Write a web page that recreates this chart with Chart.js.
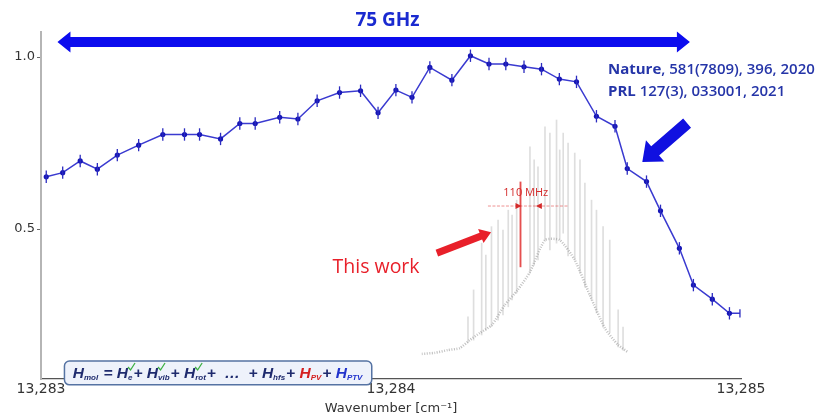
<!DOCTYPE html>
<html>
<head>
<meta charset="utf-8">
<script src="https://cdn.jsdelivr.net/npm/chart.js@4.4.1/dist/chart.umd.min.js"></script>
<style>
  html, body { margin: 0; padding: 0; background: #fff; }
  #wrap { width: 833px; height: 417px; position: relative; }
</style>
</head>
<body>
<div id="wrap"><canvas id="chart"></canvas></div>
<script>
// previous work (blue points with error bars)
const waveBlue = [13283.015, 13283.062, 13283.112, 13283.161, 13283.218, 13283.279, 13283.348, 13283.410,
  13283.453, 13283.513, 13283.568, 13283.612, 13283.682, 13283.734, 13283.789, 13283.853, 13283.913,
  13283.963, 13284.014, 13284.060, 13284.111, 13284.174, 13284.227, 13284.280, 13284.328, 13284.380,
  13284.430, 13284.481, 13284.530, 13284.587, 13284.640, 13284.675, 13284.730, 13284.770, 13284.824,
  13284.864, 13284.918, 13284.967, 13284.997];
const signalBlue = [0.652, 0.664, 0.698, 0.674, 0.715, 0.744, 0.775, 0.775, 0.775, 0.762, 0.807, 0.807,
  0.825, 0.820, 0.873, 0.897, 0.902, 0.838, 0.904, 0.883, 0.970, 0.933, 1.004, 0.980, 0.980, 0.972,
  0.965, 0.936, 0.928, 0.828, 0.799, 0.676, 0.638, 0.553, 0.444, 0.337, 0.296, 0.255, 0.255];
const errBlue = [0.018, 0.018, 0.018, 0.018, 0.018, 0.018, 0.018, 0.018, 0.018, 0.018, 0.018, 0.018,
  0.018, 0.018, 0.018, 0.018, 0.018, 0.018, 0.018, 0.018, 0.018, 0.018, 0.018, 0.018, 0.018, 0.018,
  0.018, 0.018, 0.018, 0.018, 0.018, 0.018, 0.018, 0.018, 0.018, 0.018, 0.018, 0.018, 0.012];

// this work: gray spectrum, one trace per line (top / bottom)
const spikeWave = [13284.220, 13284.236, 13284.259, 13284.271, 13284.287, 13284.306, 13284.320, 13284.335,
  13284.346, 13284.359, 13284.397, 13284.409, 13284.420, 13284.440, 13284.454, 13284.473, 13284.482,
  13284.492, 13284.506, 13284.525, 13284.540, 13284.554, 13284.573, 13284.587, 13284.606, 13284.625,
  13284.649, 13284.663];
const spikeTop = [0.245, 0.323, 0.459, 0.424, 0.507, 0.526, 0.497, 0.555, 0.541, 0.584, 0.739, 0.701,
  0.681, 0.797, 0.779, 0.817, 0.730, 0.779, 0.750, 0.721, 0.701, 0.634, 0.584, 0.555, 0.507, 0.468,
  0.265, 0.215];
const spikeBottom = [0.169, 0.177, 0.192, 0.206, 0.216, 0.235, 0.250, 0.274, 0.294, 0.314, 0.372, 0.395,
  0.410, 0.468, 0.439, 0.459, 0.468, 0.488, 0.422, 0.410, 0.372, 0.331, 0.294, 0.256, 0.215, 0.198,
  0.157, 0.148];

// lower noise envelope of the gray spectrum
const baseWave = [13284.088, 13284.125, 13284.162, 13284.197, 13284.225, 13284.254, 13284.288, 13284.325,
  13284.362, 13284.397, 13284.440, 13284.482, 13284.525, 13284.568, 13284.611, 13284.649, 13284.677];
const baseSignal = [0.137, 0.140, 0.148, 0.154, 0.177, 0.198, 0.221, 0.279, 0.323, 0.375, 0.468, 0.468,
  0.410, 0.308, 0.212, 0.163, 0.142];

// highlighted line (red)
const redWave = [13284.370];
const redTop = [0.637];
const redBottom = [0.390];

const xTicks = [13283, 13284, 13285];
const yTicks = [0.5, 1.0];

const navy = '#1f2b6e';

function fatArrow(ctx, x1, y1, x2, y2, shaft, headW, headL) {
  const a = Math.atan2(y2 - y1, x2 - x1);
  const len = Math.hypot(x2 - x1, y2 - y1);
  ctx.save();
  ctx.translate(x1, y1);
  ctx.rotate(a);
  ctx.beginPath();
  ctx.moveTo(0, -shaft / 2);
  ctx.lineTo(len - headL, -shaft / 2);
  ctx.lineTo(len - headL, -headW / 2);
  ctx.lineTo(len, 0);
  ctx.lineTo(len - headL, headW / 2);
  ctx.lineTo(len - headL, shaft / 2);
  ctx.lineTo(0, shaft / 2);
  ctx.closePath();
  ctx.fill();
  ctx.restore();
}

function doubleArrow(ctx, x1, x2, y, shaft, headW, headL) {
  ctx.beginPath();
  ctx.moveTo(x1, y);
  ctx.lineTo(x1 + headL, y - headW / 2);
  ctx.lineTo(x1 + headL, y - shaft / 2);
  ctx.lineTo(x2 - headL, y - shaft / 2);
  ctx.lineTo(x2 - headL, y - headW / 2);
  ctx.lineTo(x2, y);
  ctx.lineTo(x2 - headL, y + headW / 2);
  ctx.lineTo(x2 - headL, y + shaft / 2);
  ctx.lineTo(x1 + headL, y + shaft / 2);
  ctx.lineTo(x1 + headL, y + headW / 2);
  ctx.closePath();
  ctx.fill();
}

const overlay = {
  id: 'overlay',
  afterDatasetsDraw(chart) {
    const ctx = chart.ctx, xs = chart.scales.x, ys = chart.scales.y;
    const X = v => xs.getPixelForValue(v), Y = v => ys.getPixelForValue(v);
    ctx.save();

    // error bars
    ctx.strokeStyle = '#2b2bc0';
    ctx.lineWidth = 1.3;
    waveBlue.forEach((w, i) => {
      const x = X(w);
      ctx.beginPath();
      ctx.moveTo(x, Y(signalBlue[i] - errBlue[i]));
      ctx.lineTo(x, Y(signalBlue[i] + errBlue[i]));
      ctx.stroke();
    });

    // 75 GHz span arrow
    ctx.fillStyle = '#0c0cee';
    doubleArrow(ctx, X(13283.047), X(13284.854), Y(1.044), 10, 21, 13);
    ctx.font = 'bold 19px "Open Sans"';
    ctx.textAlign = 'center';
    ctx.textBaseline = 'middle';
    ctx.fillStyle = '#1a2ad0';
    ctx.fillText('75 GHz', X(13283.990), Y(1.105));

    // references
    ctx.textAlign = 'left';
    ctx.fillStyle = '#2535a8';
    const refX = X(13284.620);
    [['Nature', ', 581(7809), 396, 2020', 0.962], ['PRL', ' 127(3), 033001, 2021', 0.898]].forEach(r => {
      ctx.font = 'bold 15px "Open Sans"';
      ctx.fillText(r[0], refX, Y(r[2]));
      const w = ctx.measureText(r[0]).width;
      ctx.font = '600 15px "Open Sans"';
      ctx.fillText(r[1], refX + w, Y(r[2]));
    });

    // blue pointer arrow
    ctx.fillStyle = '#1010e0';
    fatArrow(ctx, X(13284.846), Y(0.808), X(13284.718), Y(0.695), 12, 28, 17);

    // red arrow + label
    ctx.fillStyle = '#e8202a';
    fatArrow(ctx, X(13284.131), Y(0.430), X(13284.286), Y(0.491), 7, 15, 11);
    ctx.font = '19.5px "Open Sans"';
    ctx.textBaseline = 'middle';
    ctx.fillText('This work', X(13283.833), Y(0.387));

    // 110 MHz marker
    const hy = Y(0.567);
    ctx.strokeStyle = 'rgba(225,60,60,0.7)';
    ctx.lineWidth = 0.8;
    ctx.setLineDash([3, 1.5]);
    ctx.beginPath();
    ctx.moveTo(X(13284.277), hy);
    ctx.lineTo(X(13284.505), hy);
    ctx.stroke();
    ctx.setLineDash([]);
    ctx.fillStyle = '#d42a2a';
    const r1 = X(13284.370), r2 = X(13284.414);
    ctx.beginPath();
    ctx.moveTo(r1 + 1, hy); ctx.lineTo(r1 - 5, hy - 3); ctx.lineTo(r1 - 5, hy + 3); ctx.closePath(); ctx.fill();
    ctx.beginPath();
    ctx.moveTo(r2, hy); ctx.lineTo(r2 + 6, hy - 3); ctx.lineTo(r2 + 6, hy + 3); ctx.closePath(); ctx.fill();
    ctx.font = '11px "Open Sans"';
    ctx.textAlign = 'center';
    ctx.fillText('110 MHz', X(13284.385), Y(0.605));
    ctx.restore();
  },
  afterDraw(chart) {
    const ctx = chart.ctx, xs = chart.scales.x, ys = chart.scales.y;
    const bx1 = xs.getPixelForValue(13283.067), bx2 = xs.getPixelForValue(13283.945);
    const by1 = ys.getPixelForValue(0.116), by2 = ys.getPixelForValue(0.047);
    ctx.save();
    ctx.beginPath();
    ctx.roundRect(bx1, by1, bx2 - bx1, by2 - by1, 5);
    ctx.fillStyle = '#eef2fb';
    ctx.fill();
    ctx.strokeStyle = '#5573a3';
    ctx.lineWidth = 1.5;
    ctx.stroke();

    const parts = [
      { t: 'H', s: 'mol', c: navy }, { t: ' = ', c: navy },
      { t: 'H', s: 'e', c: navy, k: true }, { t: '+ ', c: navy },
      { t: 'H', s: 'vib', c: navy, k: true }, { t: '+ ', c: navy },
      { t: 'H', s: 'rot', c: navy, k: true }, { t: '+  …  + ', c: navy },
      { t: 'H', s: 'hfs', c: navy }, { t: '+ ', c: navy },
      { t: 'H', s: 'PV', c: '#d42020' }, { t: '+ ', c: navy },
      { t: 'H', s: 'PTV', c: '#2233cc' }
    ];
    const big = 'italic bold 15.5px "Liberation Sans"', small = 'italic bold 8px "Liberation Sans"';
    let total = 0;
    parts.forEach(p => {
      ctx.font = big; p.w = ctx.measureText(p.t).width;
      if (p.s) { ctx.font = small; p.sw = ctx.measureText(p.s).width + 1; } else p.sw = 0;
      total += p.w + p.sw;
    });
    let x = (bx1 + bx2) / 2 - total / 2;
    const base = (by1 + by2) / 2 + 5;
    ctx.textAlign = 'left';
    ctx.textBaseline = 'alphabetic';
    parts.forEach(p => {
      ctx.fillStyle = p.c;
      ctx.font = big;
      ctx.fillText(p.t, x, base);
      x += p.w;
      if (p.s) {
        ctx.font = small;
        ctx.fillText(p.s, x, base + 2);
        if (p.k) {
          ctx.strokeStyle = '#3cb043';
          ctx.lineWidth = 1.3;
          ctx.beginPath();
          ctx.moveTo(x, base - 11);
          ctx.lineTo(x + 2.5, base - 8);
          ctx.lineTo(x + 7, base - 15);
          ctx.stroke();
        }
        x += p.sw;
      }
    });
    ctx.restore();
  }
};

new Chart(document.getElementById('chart'), {
  type: 'line',
  data: {
    datasets: [
      {
        label: 'previous',
        data: waveBlue.map((w, i) => ({ x: w, y: signalBlue[i] })),
        borderColor: '#3a3ad0',
        borderWidth: 1.5,
        backgroundColor: '#1515b5',
        pointBackgroundColor: '#1515b5',
        pointBorderWidth: 0,
        pointRadius: waveBlue.map((w, i) => i === waveBlue.length - 1 ? 0 : 2.6),
        tension: 0
      },
      {
        type: 'bar',
        label: 'red',
        data: redWave.map((w, i) => ({ x: w, y: [redBottom[i], redTop[i]] })),
        backgroundColor: 'rgba(224,48,48,0.85)',
        barThickness: 1.2,
        grouped: false
      },
      {
        type: 'bar',
        label: 'spectrum',
        data: spikeWave.map((w, i) => ({ x: w, y: [spikeBottom[i], spikeTop[i]] })),
        backgroundColor: 'rgba(160,160,160,0.35)',
        barThickness: 1,
        grouped: false
      },
      {
        label: 'baseline',
        data: baseWave.map((w, i) => ({ x: w, y: baseSignal[i] })),
        borderColor: 'rgba(150,150,150,0.6)',
        borderWidth: 2.5,
        borderDash: [1, 1.5],
        pointRadius: 0,
        tension: 0.2
      }
    ]
  },
  options: {
    responsive: true,
    maintainAspectRatio: false,
    animation: false,
    layout: { padding: { top: 32, right: 92, left: 0, bottom: 0 } },
    plugins: { legend: { display: false }, tooltip: { enabled: false } },
    scales: {
      x: {
        type: 'linear',
        min: 13283,
        max: 13285,
        offset: false,
        afterFit: s => { s.height = 38; },
        afterBuildTicks: s => { s.ticks = xTicks.map(v => ({ value: v })); },
        ticks: {
          padding: 2,
          maxRotation: 0,
          color: '#333',
          font: { family: 'DejaVu Sans', size: 14 },
          callback: v => v.toLocaleString('en-US')
        },
        grid: { display: true, drawOnChartArea: false, drawTicks: false, offset: false },
        border: { display: true, color: '#555', width: 1.3 },
        title: {
          display: true,
          text: 'Wavenumber [cm⁻¹]',
          color: '#333',
          font: { family: 'DejaVu Sans', size: 13 },
          padding: { top: 0, bottom: 1 }
        }
      },
      y: {
        type: 'linear',
        min: 0.064,
        max: 1.073,
        afterFit: s => { s.width = 41; },
        afterBuildTicks: s => { s.ticks = yTicks.map(v => ({ value: v })); },
        ticks: {
          padding: 2,
          color: '#333',
          font: { family: 'DejaVu Sans', size: 13 },
          callback: v => v.toFixed(1)
        },
        grid: { drawOnChartArea: false, drawTicks: true, tickLength: 4, color: '#666' },
        border: { display: true, color: '#b5b5b5', width: 2 }
      }
    }
  },
  plugins: [overlay]
});
</script>
</body>
</html>
